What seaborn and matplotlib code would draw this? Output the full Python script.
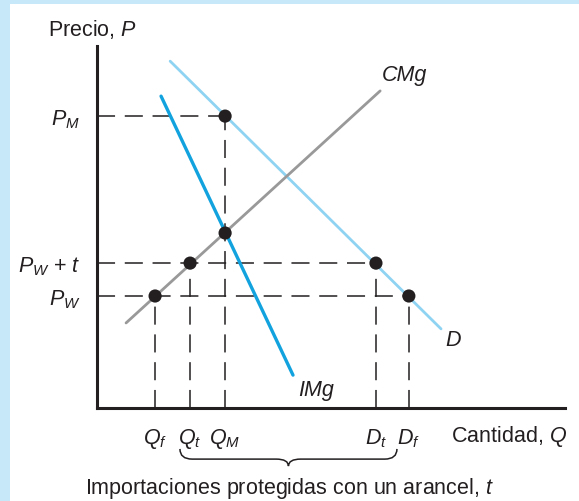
import numpy as np
import pandas as pd
import matplotlib
matplotlib.use("Agg")
import matplotlib.pyplot as plt
from matplotlib.path import Path
from matplotlib.patches import PathPatch, Rectangle
import seaborn as sns

# ----- DATA (units: quantity Q, price P) -----
q_ticks = [1.66, 2.66, 3.66, 7.97, 8.91]
q_labels = [r'$Q_f$', r'$Q_t$', r'$Q_M$', r'$D_t$', r'$D_f$']
p_ticks = [3.2, 4.14, 8.34]
p_labels = [r'$P_W$', r'$P_W$ + $t$', r'$P_M$']

# curve end points
d_q = [2.09, 9.83]
d_p = [9.91, 2.26]
cmg_q = [0.83, 8.09]
cmg_p = [2.43, 9.06]
img_q = [1.83, 5.60]
img_p = [8.91, 0.94]

# equilibrium points (Q, P)
pts_q = [3.66, 3.66, 2.66, 1.66, 7.97, 8.91]
pts_p = [8.34, 5.00, 4.14, 3.2, 4.14, 3.2]

# dashed guide lines: horizontal (P, Q end) and vertical (Q, P top)
h_guides = [(8.34, 3.66), (4.14, 7.97), (3.2, 8.91)]
v_guides = [(1.66, 3.2), (2.66, 4.14), (3.66, 8.34), (7.97, 4.14), (8.91, 3.2)]

# brace under the axis (Q span)
brace_left, brace_right = 2.37, 8.57

sns.set_theme(style='white')
plt.rcParams['font.family'] = ['Liberation Sans', 'DejaVu Sans']
plt.rcParams['mathtext.fontset'] = 'custom'
plt.rcParams['mathtext.it'] = 'Liberation Sans:italic'
plt.rcParams['mathtext.rm'] = 'Liberation Sans:italic'
plt.rcParams['lines.scale_dashes'] = False

ink = '#231f20'
fs = 15.5

fig = plt.figure(figsize=(5.79, 5.02), dpi=100)
fig.patch.set_facecolor('white')
# light blue frame on top and left
fig.patches.append(Rectangle((0, 1 - 5 / 502), 1, 5 / 502, transform=fig.transFigure,
                             facecolor='#c6e8f8', edgecolor='none'))
fig.patches.append(Rectangle((0, 0), 10 / 579, 1, transform=fig.transFigure,
                             facecolor='#c6e8f8', edgecolor='none'))

ax = fig.add_axes([97 / 579, 93 / 502, 468 / 579, 362 / 502])
ax.set_xlim(0, 468 / 35)
ax.set_ylim(0, 362 / 35)
ax.set_facecolor('none')
sns.despine(ax=ax)
for s in ['left', 'bottom']:
    ax.spines[s].set_linewidth(2.2)
    ax.spines[s].set_color(ink)

# dashed guides
for p, q in h_guides:
    ax.plot([0, q], [p, p], color=ink, lw=1.1, dashes=(13, 7), zorder=1)
for q, p in v_guides:
    ax.plot([q, q], [0, p], color=ink, lw=1.1, dashes=(13, 7), zorder=1)

# curves
sns.lineplot(x=d_q, y=d_p, color='#8fd3f2', lw=2, ax=ax, zorder=2)
sns.lineplot(x=cmg_q, y=cmg_p, color='#999999', lw=2, ax=ax, zorder=2)
sns.lineplot(x=img_q, y=img_p, color='#12a3df', lw=2.4, ax=ax, zorder=3)

pts = pd.DataFrame({'Q': pts_q, 'P': pts_p})
sns.scatterplot(data=pts, x='Q', y='P', color=ink, s=90, edgecolor='none', ax=ax, zorder=4)

# ticks
ax.set_xticks(q_ticks, labels=q_labels)
ax.set_yticks(p_ticks, labels=p_labels)
ax.tick_params(axis='both', direction='out', length=5, width=1.2, color=ink,
               labelsize=fs, labelcolor=ink)
ax.tick_params(axis='x', pad=8)
ax.tick_params(axis='y', pad=7)
ax.set_xlabel('')
ax.set_ylabel('')

# curve labels
ax.text(8.14, 9.54, 'CMg', style='italic', fontsize=fs, color=ink, va='center')
ax.text(9.94, 1.97, 'D', style='italic', fontsize=fs, color=ink, va='center')
ax.text(5.74, 0.54, 'IMg', style='italic', fontsize=fs, color=ink, va='center')

ax.text(-1.4, 10.83, r'Precio, $P$', fontsize=fs, color=ink, va='center', clip_on=False)
ax.text(13.43, -0.8, r'Cantidad, $Q$', fontsize=fs, color=ink, va='center', ha='right',
        clip_on=False)
ax.text(5.51, -2.26, r'Importaciones protegidas con un arancel, $t$', fontsize=fs,
        color=ink, va='center', ha='center', clip_on=False)

# brace
mid = (brace_left + brace_right) / 2
y0, y1, y2 = -1.17, -1.46, -1.66
c = 0.35
verts = [(brace_left, y0), (brace_left, y1), (brace_left + c, y1), (brace_left + c, y1),
         (mid - c, y1), (mid, y1), (mid, y2),
         (mid, y1), (mid + c, y1), (mid + c, y1),
         (brace_right - c, y1), (brace_right, y1), (brace_right, y0)]
codes = [Path.MOVETO, Path.CURVE3, Path.CURVE3, Path.LINETO,
         Path.LINETO, Path.CURVE3, Path.CURVE3,
         Path.CURVE3, Path.CURVE3, Path.LINETO,
         Path.LINETO, Path.CURVE3, Path.CURVE3]
ax.add_patch(PathPatch(Path(verts, codes), facecolor='none', edgecolor=ink, lw=1.1,
                       clip_on=False))

fig.savefig('out.png', dpi=100)
